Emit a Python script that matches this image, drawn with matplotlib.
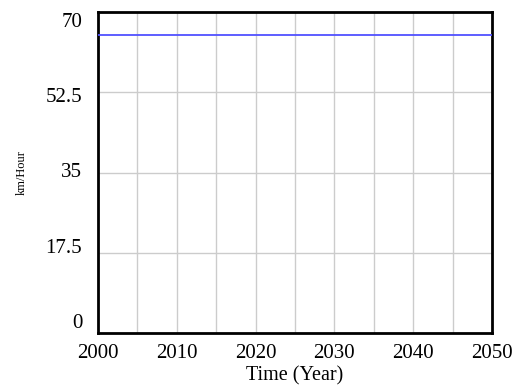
import matplotlib.pyplot as plt
import numpy as np

years = [2000, 2010, 2020, 2030, 2040, 2050]
speed = [65, 65, 65, 65, 65, 65]
y_ticks = [0, 17.5, 35, 52.5, 70]
y_tick_labels = ["0", "17.5", "35", "52.5", "70"]
x_ticks = [2000, 2010, 2020, 2030, 2040, 2050]

plt.rcParams["font.family"] = ["Liberation Serif", "DejaVu Serif"]

fig = plt.figure(figsize=(5.16, 3.87), dpi=100)
ax = fig.add_axes([0.190, 0.1395, 0.7635, 0.8295])

ax.plot(years, speed, color="#5050ff", lw=1.3, zorder=3)

ax.set_xlim(2000, 2050)
ax.set_ylim(0, 70)

# grid every 5 years, and at the y ticks
for gx in np.arange(2005, 2050, 5):
    ax.axvline(gx, color="#cccccc", lw=1, zorder=1)
for gy in y_ticks[1:-1]:
    ax.axhline(gy, color="#cccccc", lw=1, zorder=1)

ax.set_xticks(x_ticks)
ax.set_xticklabels([str(x) for x in x_ticks], fontsize=15)
ax.tick_params(axis="x", length=0, pad=8)
ax.set_yticks([])
for v, lab in zip(y_ticks, y_tick_labels):
    ax.text(-0.04, 0.031 + v / 70 * 0.935, lab, transform=ax.transAxes,
            ha="right", va="center", fontsize=15)

for s in ax.spines.values():
    s.set_linewidth(2)
    s.set_color("black")

ax.set_xlabel("Time (Year)", fontsize=14.5, labelpad=2)
fig.text(0.042, 0.555, "km/Hour", rotation=90, ha="center", va="center", fontsize=9)

plt.savefig("out.png", dpi=100)
